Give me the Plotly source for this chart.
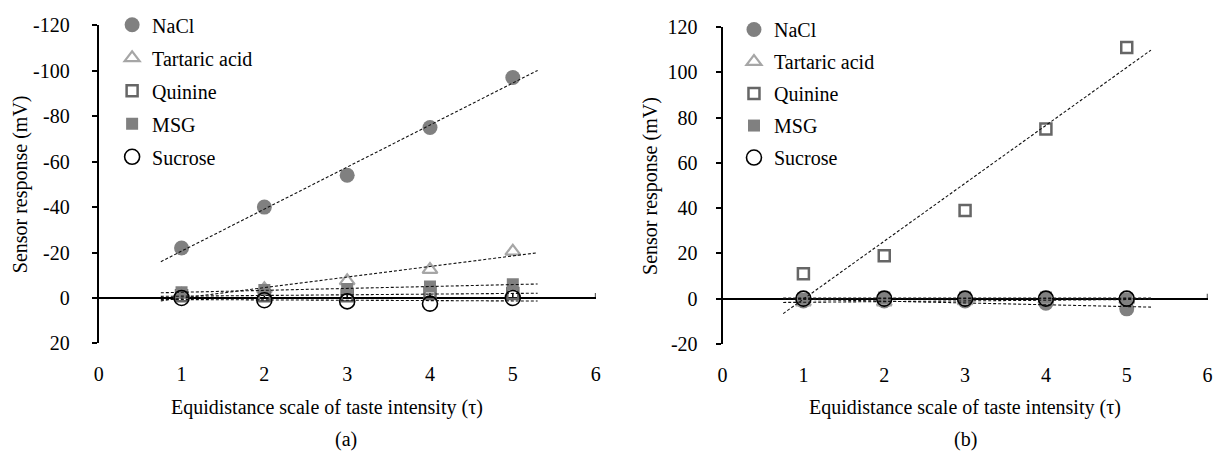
import numpy as np
import plotly.graph_objects as go

# ---------------- data ----------------
tau = [1, 2, 3, 4, 5]
series_names = ["NaCl", "Tartaric acid", "Quinine", "MSG", "Sucrose"]

# panel (a)
a_nacl = [-22, -40, -54, -75, -97]
a_tartaric = [-1.5, -4, -7.5, -12.5, -20.5]
a_quinine = [-1, -1, -1, -2, -2]
a_msg = [-2.5, -3.5, -4, -5, -6]
a_sucrose = [0, 1, 1.5, 2.5, 0]

# panel (b)
b_nacl = [-1, -1, -1, -2, -4.5]
b_tartaric = [-1.5, -1.5, -1, -0.5, -0.5]
b_quinine = [11, 19, 39, 75, 111]
b_msg = [0, 0.5, 0.5, 0.5, 0]
b_sucrose = [0, 0, 0, 0, 0]

x_ticks = [0, 1, 2, 3, 4, 5, 6]
a_yticks = [-120, -100, -80, -60, -40, -20, 0, 20]
b_yticks = [120, 100, 80, 60, 40, 20, 0, -20]

x_title = "Equidistance scale of taste intensity (τ)"
y_title = "Sensor response (mV)"

# ---------------- styling ----------------
W, H = 1221, 463
FONT = "Liberation Serif"
FS = 20

styles = {
    "NaCl": dict(symbol="circle", size=15, color="#808080", line=dict(width=0)),
    "Tartaric acid": dict(symbol="triangle-up-open", size=13, color="#a6a6a6", line=dict(width=2.2)),
    "Quinine": dict(symbol="square-open", size=11, color="#666666", line=dict(width=2.5)),
    "MSG": dict(symbol="square", size=12, color="#808080", line=dict(width=0)),
    "Sucrose": dict(symbol="circle-open", size=15, color="#000000", line=dict(width=1.6)),
}

def px_x(p):
    return p / W

def px_y(p):
    return 1 - p / H

fig = go.Figure()

panels = [
    dict(xa="x", ya="y", legend="legend",
         data=[a_nacl, a_tartaric, a_quinine, a_msg, a_sucrose]),
    dict(xa="x2", ya="y2", legend="legend2",
         data=[b_nacl, b_tartaric, b_quinine, b_msg, b_sucrose]),
]

trend_x = np.array([0.75, 5.3])

for pi, p in enumerate(panels):
    for name, ys in zip(series_names, p["data"]):
        fig.add_trace(go.Scatter(
            x=tau, y=ys, mode="markers", name=name,
            marker=styles[name], xaxis=p["xa"], yaxis=p["ya"],
            legend=p["legend"], legendgroup=f"{pi}-{name}",
            showlegend=True, hoverinfo="skip",
        ))
    for name, ys in zip(series_names, p["data"]):
        k, b = np.polyfit(tau, ys, 1)
        fig.add_trace(go.Scatter(
            x=trend_x, y=k * trend_x + b, mode="lines",
            line=dict(color="#111111", width=1.1, dash="3px,2px"),
            xaxis=p["xa"], yaxis=p["ya"], showlegend=False, hoverinfo="skip",
        ))

xaxis_common = dict(
    range=[0, 6], tickvals=x_ticks, ticktext=[str(v) for v in x_ticks],
    showline=False, showgrid=False, zeroline=False, ticks="",
    ticklabelstandoff=17, tickfont=dict(family=FONT, size=FS, color="#000"),
)
yaxis_common = dict(
    showline=True, linecolor="#000", linewidth=2, showgrid=False,
    zeroline=True, zerolinecolor="#000", zerolinewidth=2,
    ticks="outside", ticklen=5, tickwidth=1.5, tickcolor="#000",
    tickfont=dict(family=FONT, size=FS, color="#000"),
)

fig.update_layout(
    width=W, height=H, margin=dict(l=0, r=0, t=0, b=0),
    paper_bgcolor="white", plot_bgcolor="white",
    font=dict(family=FONT, size=FS, color="#000"),
    xaxis=dict(domain=[px_x(94.5), px_x(595.5)], anchor="y", **xaxis_common),
    yaxis=dict(domain=[px_y(349), px_y(15)], anchor="x", range=[20, -120],
               tickvals=a_yticks, ticktext=[str(v) for v in a_yticks],
               ticklabelstandoff=18, **yaxis_common),
    xaxis2=dict(domain=[px_x(723.5), px_x(1212.5)], anchor="y2", **xaxis_common),
    yaxis2=dict(domain=[px_y(349.5), px_y(17)], anchor="x2", range=[-20, 120],
                tickvals=b_yticks, ticktext=[str(v) for v in b_yticks],
                ticklabelstandoff=14, **yaxis_common),
    legend=dict(x=px_x(108), y=px_y(-6), xanchor="left", yanchor="top",
                bgcolor="rgba(0,0,0,0)", borderwidth=0, tracegroupgap=4,
                font=dict(family=FONT, size=FS, color="#000")),
    legend2=dict(x=px_x(735), y=px_y(-1), xanchor="left", yanchor="top",
                 bgcolor="rgba(0,0,0,0)", borderwidth=0, tracegroupgap=3,
                 font=dict(family=FONT, size=FS, color="#000")),
)

# small axis tick marks on the zero line at each integer (x axis crosses at 0)
for xa, ya in (("x", "y"), ("x2", "y2")):
    for xv in x_ticks[1:]:
        fig.add_shape(type="line", xref=xa, yref=ya, x0=xv, x1=xv,
                      ysizemode="pixel", yanchor=0, y0=0, y1=5,
                      line=dict(color="#000", width=1.5), layer="below")

# titles and panel labels
annos = [
    (px_x(325), px_y(416), x_title, 0),
    (px_x(344), px_y(450), "(a)", 0),
    (px_x(968), px_y(416), x_title, 0),
    (px_x(968), px_y(450), "(b)", 0),
    (px_x(15), px_y(182), y_title, -90),
    (px_x(651), px_y(184), y_title, -90),
]
for x, y, t, ang in annos:
    fig.add_annotation(x=x, y=y, xref="paper", yref="paper", text=t,
                       showarrow=False, textangle=ang,
                       xanchor="center", yanchor="middle",
                       font=dict(family=FONT, size=FS, color="#000"))

fig.write_html("out.html")
